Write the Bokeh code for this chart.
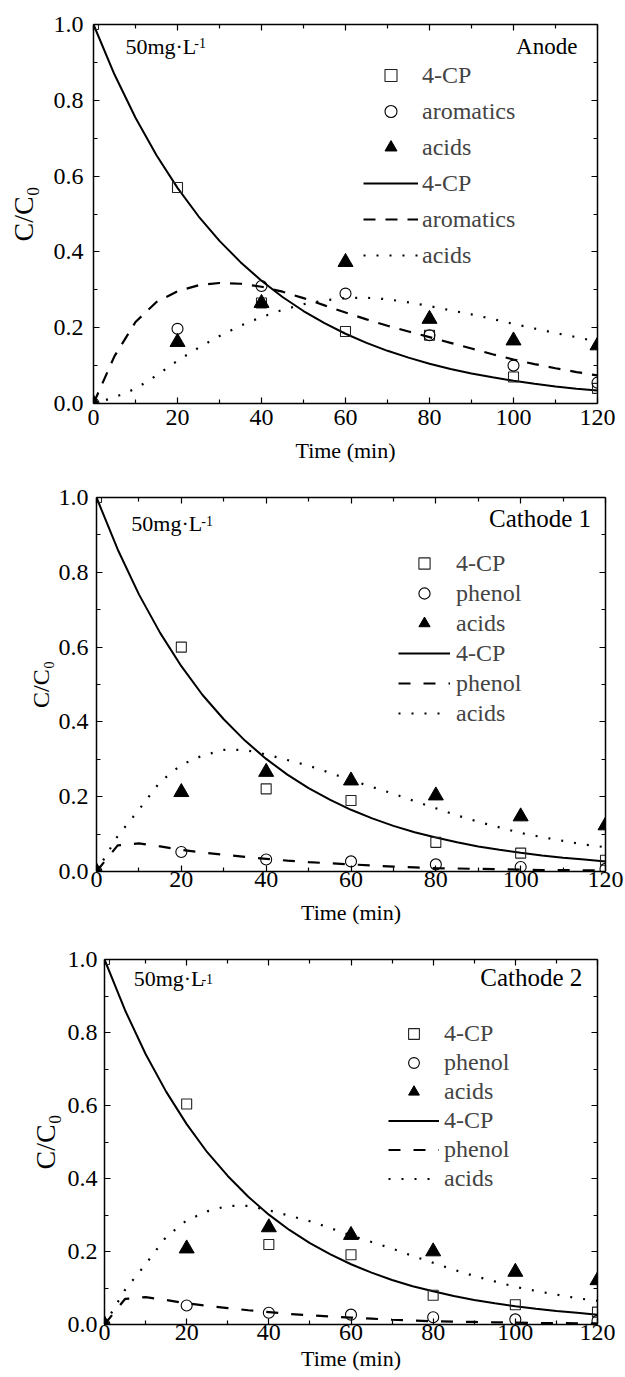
from bokeh.plotting import figure
from bokeh.layouts import column, row
from bokeh.models import (Range1d, LinearAxis, FixedTicker, PrintfTickFormatter,
                          CustomJSTickFormatter, Legend, LegendItem, Label)
from bokeh.embed import file_html
from bokeh.resources import INLINE

# ---------------- data ----------------
time_points = [0, 20, 40, 60, 80, 100, 120]
time_fit = [0, 5, 10, 15, 20, 25, 30, 35, 40, 45, 50, 55, 60,
            65, 70, 75, 80, 85, 90, 95, 100, 105, 110, 115, 120]

x_ticks = [0, 20, 40, 60, 80, 100, 120]
x_minor = [10, 30, 50, 70, 90, 110]
y_ticks = [0.0, 0.2, 0.4, 0.6, 0.8, 1.0]
y_minor = [0.1, 0.3, 0.5, 0.7, 0.9]

# Anode
anode_cp_pts = [1.0, 0.57, 0.265, 0.19, 0.18, 0.07, 0.04]
anode_arom_pts = [0.0, 0.197, 0.31, 0.29, 0.18, 0.10, 0.055]
anode_acids_pts = [0.0, 0.162, 0.265, 0.373, 0.223, 0.166, 0.153]
anode_cp_fit = [1.0, 0.868, 0.754, 0.655, 0.569, 0.494, 0.429, 0.373, 0.324, 0.281,
                0.244, 0.212, 0.184, 0.160, 0.139, 0.121, 0.105, 0.091, 0.079, 0.069,
                0.060, 0.052, 0.045, 0.039, 0.034]
anode_arom_fit = [0.0, 0.125, 0.215, 0.268, 0.296, 0.312, 0.318, 0.316, 0.308, 0.295,
                  0.278, 0.259, 0.240, 0.222, 0.205, 0.190, 0.175, 0.160, 0.145, 0.130,
                  0.116, 0.104, 0.093, 0.083, 0.074]
anode_acids_fit = [0.0, 0.016, 0.039, 0.074, 0.113, 0.147, 0.178, 0.205, 0.228, 0.247,
                   0.262, 0.272, 0.278, 0.279, 0.275, 0.267, 0.257, 0.246, 0.235, 0.223,
                   0.210, 0.198, 0.186, 0.175, 0.163]

# Cathode 1
cath1_cp_pts = [1.0, 0.60, 0.221, 0.19, 0.078, 0.049, 0.03]
cath1_phenol_pts = [0.0, 0.052, 0.032, 0.027, 0.019, 0.012, 0.007]
cath1_acids_pts = [0.0, 0.212, 0.266, 0.243, 0.203, 0.147, 0.123]
cath1_cp_fit = [1.0, 0.861, 0.741, 0.638, 0.549, 0.472, 0.407, 0.350, 0.301, 0.259,
                0.223, 0.192, 0.165, 0.142, 0.122, 0.105, 0.091, 0.078, 0.067, 0.058,
                0.050, 0.043, 0.037, 0.032, 0.027]
cath1_phenol_fit = [0.0, 0.070, 0.075, 0.067, 0.058, 0.051, 0.045, 0.039, 0.034, 0.029,
                    0.025, 0.022, 0.019, 0.016, 0.013, 0.011, 0.009, 0.008, 0.007, 0.006,
                    0.005, 0.004, 0.004, 0.003, 0.003]
cath1_acids_fit = [0.0, 0.095, 0.165, 0.240, 0.285, 0.310, 0.325, 0.325, 0.313, 0.298,
                   0.283, 0.264, 0.244, 0.226, 0.208, 0.188, 0.169, 0.150, 0.133, 0.118,
                   0.103, 0.092, 0.082, 0.072, 0.065]

# Cathode 2
cath2_cp_pts = [1.0, 0.604, 0.219, 0.191, 0.08, 0.054, 0.034]
cath2_phenol_pts = [0.0, 0.052, 0.032, 0.027, 0.02, 0.014, 0.01]
cath2_acids_pts = [0.0, 0.208, 0.266, 0.245, 0.20, 0.144, 0.121]
cath2_cp_fit = [1.0, 0.861, 0.741, 0.638, 0.549, 0.472, 0.407, 0.350, 0.301, 0.259,
                0.223, 0.192, 0.165, 0.142, 0.122, 0.105, 0.091, 0.078, 0.067, 0.058,
                0.050, 0.043, 0.037, 0.032, 0.027]
cath2_phenol_fit = [0.0, 0.070, 0.075, 0.067, 0.058, 0.051, 0.045, 0.039, 0.034, 0.029,
                    0.025, 0.022, 0.019, 0.016, 0.013, 0.011, 0.009, 0.008, 0.007, 0.006,
                    0.005, 0.004, 0.004, 0.003, 0.003]
cath2_acids_fit = [0.0, 0.095, 0.165, 0.240, 0.285, 0.310, 0.325, 0.325, 0.313, 0.298,
                   0.283, 0.264, 0.244, 0.226, 0.208, 0.188, 0.169, 0.150, 0.133, 0.118,
                   0.103, 0.092, 0.082, 0.072, 0.065]

FONT = "Liberation Serif"
AXFONT = "'Liberation Serif', serif"


def style_axis(ax, labels=True):
    ax.axis_line_width = 1.5
    ax.axis_line_color = "black"
    ax.major_tick_in = 6
    ax.major_tick_out = 0
    ax.minor_tick_in = 4
    ax.minor_tick_out = 0
    ax.major_tick_line_width = 1.2
    ax.minor_tick_line_width = 1.2
    ax.major_label_text_font = AXFONT
    ax.major_label_text_font_size = "24px"
    ax.major_label_text_color = "black"
    ax.axis_label_text_font = AXFONT
    ax.axis_label_text_font_style = "normal"
    ax.axis_label_text_color = "black"
    if not labels:
        ax.formatter = CustomJSTickFormatter(code="return ''")
        ax.major_label_standoff = 0
        ax.major_label_text_font_size = "1px"


def make_panel(cfg):
    p = figure(width=625, height=cfg["height"], output_backend="svg", toolbar_location=None,
               x_range=Range1d(0, 120), y_range=Range1d(0, 1.0),
               min_border_left=cfg["bl"], min_border_right=cfg["br"],
               min_border_top=cfg["bt"], min_border_bottom=cfg["bb"],
               x_axis_label="Time (min)", y_axis_label="C/C\u2080")
    p.xgrid.visible = False
    p.ygrid.visible = False
    p.outline_line_color = None
    p.background_fill_color = "white"
    p.border_fill_color = "white"

    xb = p.xaxis[0]
    yl = p.yaxis[0]
    for ax in (xb, yl):
        style_axis(ax)
    xb.ticker = FixedTicker(ticks=x_ticks, minor_ticks=x_minor)
    yl.ticker = FixedTicker(ticks=y_ticks, minor_ticks=y_minor)
    yl.formatter = PrintfTickFormatter(format="%.1f")
    xb.major_label_standoff = cfg["xs1"]
    xb.axis_label_standoff = cfg["xs2"]
    xb.axis_label_text_font_size = "22px"
    yl.major_label_standoff = cfg["ys1"]
    yl.axis_label_standoff = cfg["ys2"]
    yl.axis_label_text_font_size = cfg["ylab_size"]

    xt = LinearAxis(ticker=FixedTicker(ticks=x_ticks, minor_ticks=x_minor))
    yr = LinearAxis(ticker=FixedTicker(ticks=y_ticks, minor_ticks=y_minor))
    style_axis(xt, labels=False)
    style_axis(yr, labels=False)
    p.add_layout(xt, "above")
    p.add_layout(yr, "right")

    l1 = p.line(time_fit, cfg["cp_fit"], line_color="black", line_width=2)
    l2 = p.line(time_fit, cfg["mid_fit"], line_color="black", line_width=2.2,
                line_dash=cfg["dash"])
    l3 = p.line(time_fit, cfg["acids_fit"], line_color="black", line_width=2.2,
                line_dash="2 11")
    s1 = p.scatter(time_points, cfg["cp_pts"], marker="square", size=10,
                   line_color="#222222", fill_color=None, line_width=1.1)
    s2 = p.scatter(time_points, cfg["mid_pts"], marker="circle", size=11,
                   line_color="black", fill_color=None, line_width=1.1)
    s3 = p.scatter(time_points, cfg["acids_pts"], marker="triangle", size=15,
                   line_color="black", fill_color="black")

    items = [LegendItem(label="4-CP", renderers=[s1]),
             LegendItem(label=cfg["mid_name"], renderers=[s2]),
             LegendItem(label="acids", renderers=[s3]),
             LegendItem(label="4-CP", renderers=[l1]),
             LegendItem(label=cfg["mid_name"], renderers=[l2]),
             LegendItem(label="acids", renderers=[l3])]
    leg = Legend(items=items, location=cfg["leg_loc"], glyph_width=cfg["gw"],
                 glyph_height=cfg["gh"], label_height=cfg["gh"], spacing=cfg["sp"],
                 padding=0, margin=0, border_line_color=None, background_fill_alpha=0,
                 label_text_font=AXFONT, label_text_font_size="24px",
                 label_standoff=cfg["lst"], label_text_baseline="middle")
    p.add_layout(leg)

    p.add_layout(Label(x=cfg["conc"][0], y=cfg["conc"][1], text="50mg\u00b7L",
                       text_font=FONT, text_font_size="22px", text_color="black"))
    p.add_layout(Label(x=cfg["sup"][0], y=cfg["sup"][1], text="-1",
                       text_font=FONT, text_font_size="14px", text_color="black"))
    p.add_layout(Label(x=cfg["title"][0], y=cfg["title"][1], text=cfg["title_text"],
                       text_font=FONT, text_font_size=cfg["title_size"],
                       text_align="right", text_color="black"))
    return p


p1 = make_panel(dict(height=483, bl=93, br=28, bt=24, bb=80,
                     xs1=6, xs2=10, ys1=10, ys2=12, ylab_size="28px",
                     cp_pts=anode_cp_pts, mid_pts=anode_arom_pts, acids_pts=anode_acids_pts,
                     cp_fit=anode_cp_fit, mid_fit=anode_arom_fit, acids_fit=anode_acids_fit,
                     dash="12 10", mid_name="aromatics",
                     leg_loc=(270, 133), gw=55, gh=30, sp=6, lst=4,
                     conc=(7.6, 0.91), sup=(24.0, 0.937),
                     title=(115.2, 0.91), title_text="Anode", title_size="23px"))

p2 = make_panel(dict(height=454, bl=96, br=20, bt=14, bb=66,
                     xs1=0, xs2=10, ys1=8, ys2=2, ylab_size="24px",
                     cp_pts=cath1_cp_pts, mid_pts=cath1_phenol_pts, acids_pts=cath1_acids_pts,
                     cp_fit=cath1_cp_fit, mid_fit=cath1_phenol_fit, acids_fit=cath1_acids_fit,
                     dash="12 13", mid_name="phenol",
                     leg_loc=(302, 144), gw=52, gh=28, sp=2, lst=6,
                     conc=(8.2, 0.898), sup=(24.7, 0.925),
                     title=(116.6, 0.907), title_text="Cathode 1", title_size="25px"))

p3 = make_panel(dict(height=440, bl=104, br=28, bt=22, bb=53,
                     xs1=0, xs2=3, ys1=7, ys2=4, ylab_size="28px",
                     cp_pts=cath2_cp_pts, mid_pts=cath2_phenol_pts, acids_pts=cath2_acids_pts,
                     cp_fit=cath2_cp_fit, mid_fit=cath2_phenol_fit, acids_fit=cath2_acids_fit,
                     dash="12 13", mid_name="phenol",
                     leg_loc=(284, 132), gw=51, gh=27, sp=2, lst=5,
                     conc=(7.1, 0.915), sup=(23.6, 0.934),
                     title=(116.3, 0.915), title_text="Cathode 2", title_size="25px"))

layout = column(row(p1), row(p2), row(p3), spacing=0)
open("out.html", "w").write(file_html(layout, INLINE))
